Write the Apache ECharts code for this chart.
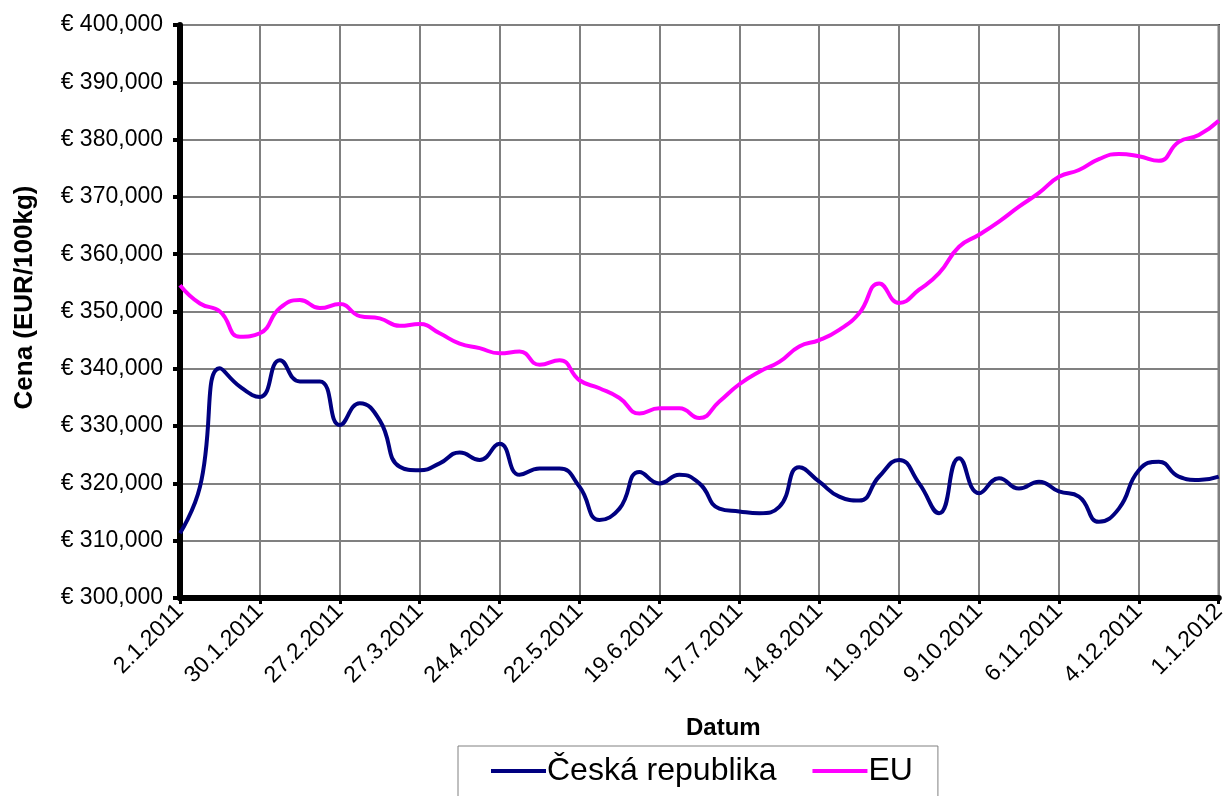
<!DOCTYPE html>
<html lang="cs">
<head>
    <meta charset="UTF-8">
    <title>Cena (EUR/100kg)</title>
    <script src="https://cdn.jsdelivr.net/npm/echarts@6/dist/echarts.min.js"></script>
    <style>
        * { margin: 0; padding: 0; box-sizing: border-box; }
        body { background: #fff; }
        #chart { width: 1229px; height: 796px; }
    </style>
</head>
<body>
    <div id="chart"></div>
    <script>
        // weekly dates, 2.1.2011 - 1.1.2012
        const dates = [
            '2.1.2011', '9.1.2011', '16.1.2011', '23.1.2011', '30.1.2011',
            '6.2.2011', '13.2.2011', '20.2.2011', '27.2.2011',
            '6.3.2011', '13.3.2011', '20.3.2011', '27.3.2011',
            '3.4.2011', '10.4.2011', '17.4.2011', '24.4.2011',
            '1.5.2011', '8.5.2011', '15.5.2011', '22.5.2011', '29.5.2011',
            '5.6.2011', '12.6.2011', '19.6.2011', '26.6.2011',
            '3.7.2011', '10.7.2011', '17.7.2011', '24.7.2011', '31.7.2011',
            '7.8.2011', '14.8.2011', '21.8.2011', '28.8.2011',
            '4.9.2011', '11.9.2011', '18.9.2011', '25.9.2011',
            '2.10.2011', '9.10.2011', '16.10.2011', '23.10.2011', '30.10.2011',
            '6.11.2011', '13.11.2011', '20.11.2011', '27.11.2011',
            '4.12.2011', '11.12.2011', '18.12.2011', '25.12.2011',
            '1.1.2012'
        ];

        const czValues = [
            311.3, 319.4, 340.1, 336.9, 335.1, 341.5, 337.8, 337.8, 330.2, 334.0,
            331.0, 322.9, 322.3, 323.5, 325.4, 324.1, 326.9, 321.5, 322.6, 322.6,
            319.4, 313.6, 315.6, 322.0, 320.0, 321.5, 320.0, 315.6, 315.1, 314.8,
            315.9, 322.8, 320.3, 317.7, 317.0, 321.2, 324.1, 320.0, 314.8, 324.4,
            318.3, 320.9, 319.1, 320.3, 318.6, 317.7, 313.3, 315.6, 322.3, 323.8,
            321.2, 320.6, 321.2
        ].map(v => v * 1000);

        const euValues = [
            354.6, 351.4, 350.0, 345.6, 346.2, 350.6, 352.0, 350.6, 351.3, 349.2,
            348.8, 347.5, 347.8, 346.2, 344.4, 343.6, 342.7, 343.0, 340.7, 341.5,
            338.0, 336.6, 334.9, 332.2, 333.1, 333.1, 331.4, 334.3, 337.3, 339.5,
            341.2, 343.9, 345.0, 346.8, 349.7, 354.9, 351.5, 353.8, 356.7, 361.3,
            363.4, 365.7, 368.3, 370.7, 373.5, 374.7, 376.6, 377.5, 377.1, 376.3,
            379.6, 380.8, 383.3
        ].map(v => v * 1000);

        const seriesNames = ['Česká republika', 'EU'];

        const chart = echarts.init(document.getElementById('chart'));
        const font = 'Liberation Sans, Arial, sans-serif';

        chart.setOption({
            animation: false,
            textStyle: { fontFamily: font },
            grid: {
                left: 180, right: 7, top: 25, bottom: 198,
                show: true, borderColor: '#000', borderWidth: 2
            },
            legend: {
                data: seriesNames,
                icon: 'rect',
                left: 458, top: 746,
                padding: [9, 25, 20, 33],
                itemWidth: 55, itemHeight: 4, itemGap: 36,
                borderColor: '#808080', borderWidth: 1,
                textStyle: { fontSize: 32, color: '#000', fontFamily: font, padding: [0, 0, 0, -4] }
            },
            xAxis: {
                type: 'category',
                data: dates,
                boundaryGap: false,
                name: 'Datum',
                nameLocation: 'middle',
                nameGap: 118,
                nameTextStyle: { fontSize: 24, fontWeight: 'bold', color: '#000', padding: [0, 0, 0, 48] },
                axisLine: { lineStyle: { color: '#000', width: 6 } },
                axisTick: { interval: 3, length: 6, lineStyle: { color: '#000', width: 3 } },
                axisLabel: { interval: 3, rotate: 45, fontSize: 23, color: '#000', margin: 10 },
                splitLine: { show: true, interval: 3, lineStyle: { color: '#808080', width: 2 } }
            },
            yAxis: {
                type: 'value',
                min: 300000, max: 400000, interval: 10000,
                name: 'Cena (EUR/100kg)',
                nameLocation: 'middle',
                nameGap: 142,
                nameTextStyle: { fontSize: 26, fontWeight: 'bold', color: '#000', padding: [0, 0, 0, 28] },
                axisLine: { show: true, lineStyle: { color: '#000', width: 6 } },
                axisTick: { show: true, length: 7, lineStyle: { color: '#000', width: 4 } },
                axisLabel: {
                    fontSize: 23, color: '#000', margin: 17,
                    formatter: v => '€ ' + v.toLocaleString('en-US')
                },
                splitLine: { show: true, lineStyle: { color: '#808080', width: 2 } }
            },
            series: [
                {
                    name: seriesNames[0],
                    type: 'line',
                    data: czValues,
                    smooth: 0.5,
                    symbol: 'none',
                    color: '#000080',
                    lineStyle: { color: '#000080', width: 4 }
                },
                {
                    name: seriesNames[1],
                    type: 'line',
                    data: euValues,
                    smooth: 0.5,
                    symbol: 'none',
                    color: '#FF00FF',
                    lineStyle: { color: '#FF00FF', width: 4 }
                }
            ]
        });
    </script>
</body>
</html>
